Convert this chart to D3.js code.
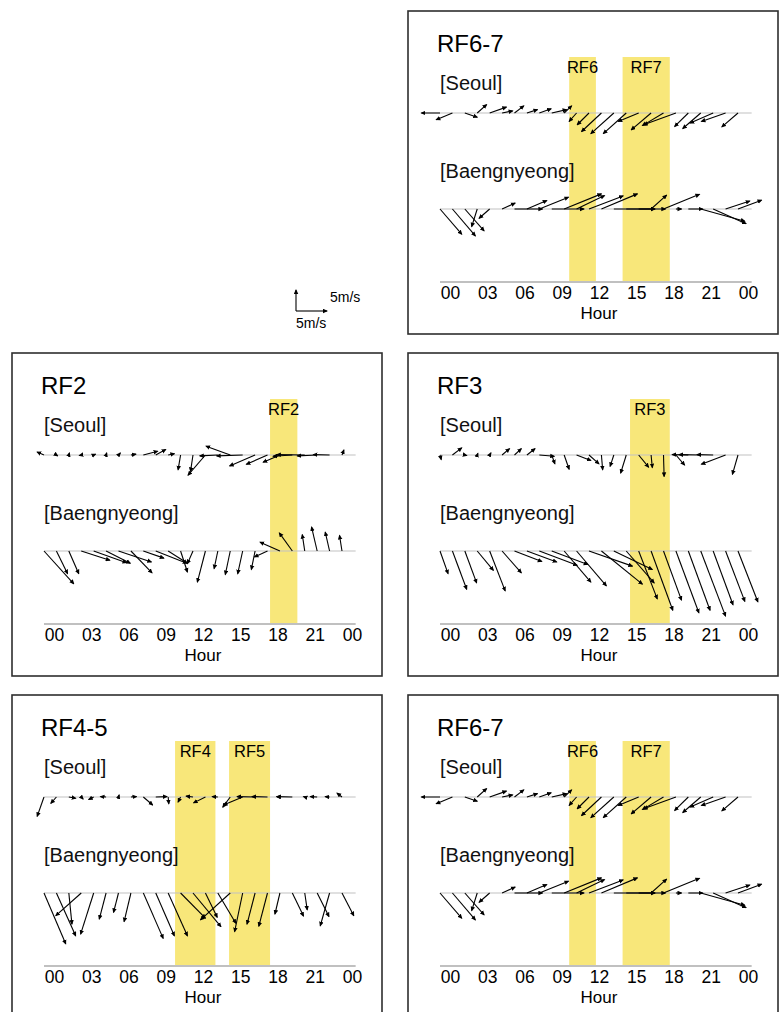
<!DOCTYPE html>
<html>
<head>
<meta charset="utf-8">
<script src="https://cdn.jsdelivr.net/npm/d3@7"></script>
<style>
  body { margin: 0; background: #fff; }
  svg { display: block; font-family: "Liberation Sans", Arial, Helvetica, sans-serif; }
</style>
</head>
<body>
<svg id="chart" width="779" height="1012"></svg>
<script>
(function() {

// hourly observation times (tail of each wind arrow)
const hours = [0, 1, 2, 3, 4, 5, 6, 7, 8, 9, 10, 11, 12, 13, 14, 15, 16, 17, 18, 19, 20, 21, 22, 23, 24];
const hourTicks = [0, 3, 6, 9, 12, 15, 18, 21, 24];
const hourLabels = ["00", "03", "06", "09", "12", "15", "18", "21", "00"];

// wind components in m/s (u eastward, v northward)
const rf67SeoulU = [-3.0, -2.6, 2.0, 1.5, 2.7, 1.7, 1.5, 1.7, 1.9, 2.4, 1.2, -1.2, -1.9, -3.2, -3.7, -3.7, -3.3, -3.2, -3.4, -5.2, -2.2, -2.9, -3.7, -3.9, -2.6];
const rf67SeoulV = [0.0, -1.6, -1.0, 2.0, 1.4, 0.5, 1.7, 0.8, 1.0, 0.8, 1.7, -2.0, -2.8, -4.4, -4.9, -4.9, -2.0, -4.0, -3.0, -2.8, -3.2, -3.7, -2.4, -2.0, -3.3];
const rf67BaengU = [3.5, 3.7, 3.1, -0.9, -1.7, 2.1, 4.5, 3.2, 4.7, 5.2, 6.0, 4.5, 5.5, 5.8, 6.6, 6.3, 2.6, 2.5, 5.8, 0.9, 2.3, 7.1, 5.3, 3.9, 3.8];
const rf67BaengV = [-6.0, -6.4, -5.2, -4.2, -2.2, 1.4, 0.0, 2.0, 2.8, 0.0, 3.6, 3.2, 3.1, 3.6, 0.0, 0.0, 0.0, 3.3, 3.5, 0.0, 0.0, -2.9, -3.5, 1.9, 2.1];

const rf2SeoulU = [-1.1, 0.2, 0.1, -0.3, 0.3, 0.1, 0.3, 0.8, 2.3, 1.6, 1.0, -0.4, -0.4, -2.8, -2.9, -3.9, -4.2, -4.1, -3.4, -2.7, -3.1, -4.5, -3.2, -2.6, 0.3];
const rf2SeoulV = [0.7, -0.2, 0.5, -0.1, 0.2, 0.5, 0.5, 0.2, 0.9, 1.3, 0.3, -3.5, -3.9, -4.8, -0.2, 2.1, -0.2, -2.6, -2.2, -1.7, -0.3, 0.1, -0.2, 0.1, 1.2];
const rf2BaengU = [4.8, 1.8, 1.6, 4.6, 5.3, 3.9, 5.3, 3.4, 3.3, 5.0, 3.1, 1.1, -0.9, -1.3, -0.6, -0.8, -0.8, -0.6, -2.1, -3.2, -2.1, -0.4, -0.9, -0.7, -0.4];
const rf2BaengV = [-7.8, -5.4, -5.4, -2.2, -2.8, -2.9, -2.6, -5.2, -1.7, -2.9, -2.9, -5.0, -3.0, -7.4, -4.2, -5.6, -5.4, -4.4, -1.4, 2.1, 4.3, 3.9, 5.7, 4.5, 3.7];

const rf3SeoulU = [0.2, 1.5, 0.3, 0.1, 0.2, 1.2, 1.1, 1.3, 2.4, 0.5, 0.8, 2.3, 1.6, 0.2, -0.6, -0.9, 1.6, 0.2, 0.1, 1.4, -2.6, -3.5, -2.6, -3.9, -0.9];
const rf3SeoulV = [-1.1, 1.7, -0.1, 0.4, 0.5, 1.5, 1.5, 1.5, -0.3, -2.1, -3.4, -1.3, -2.1, -3.5, -2.7, -4.3, -2.9, -3.0, -5.1, -2.4, 0.1, 0.1, 0.1, -2.2, -4.6];
const rf3BaengU = [1.3, 2.3, 1.9, 2.6, 2.5, 3.1, 4.4, 4.8, 6.1, 5.8, 4.3, 4.8, 7.0, 6.6, 6.2, 4.5, 3.0, 3.5, 2.9, 3.7, 3.5, 4.0, 3.2, 3.1, 3.2];
const rf3BaengV = [-5.4, -9.1, -7.6, -4.6, -9.5, -5.2, -2.5, -2.6, -3.4, -3.2, -7.4, -8.3, -3.6, -7.9, -4.4, -7.6, -11.4, -14.1, -11.7, -14.7, -14.1, -15.5, -12.8, -12.0, -12.1];

const rf45SeoulU = [-1.1, -0.9, 1.1, 0.3, -0.8, -0.9, 0.1, 0.9, 1.5, 1.8, 0.1, -0.4, -1.1, -1.9, -0.9, -1.2, -3.1, -2.9, -2.5, -0.5, -2.5, -0.2, -1.1, -0.7, -0.8];
const rf45SeoulV = [-4.6, -1.5, -0.3, -0.5, -0.6, 0.1, 0.5, 0.1, -1.9, 0.1, -1.6, -1.2, 0.2, -1.4, 0.1, -2.4, -1.9, 0.1, 0.1, 0.1, 0.1, 0.1, 0.1, 0.1, 0.9];
const rf45BaengU = [3.5, 3.1, 0.5, -4.1, -2.1, -1.1, -0.8, -1.1, 3.2, 3.0, 3.1, 4.0, 4.5, 1.9, 2.9, -4.8, -1.3, -1.3, -1.4, -0.8, 1.8, 0.4, 1.9, -1.5, 1.9];
const rf45BaengV = [-12.1, -10.2, -7.4, -5.4, -9.8, -6.2, -4.6, -6.8, -10.8, -10.2, -10.2, -6.0, -8.0, -5.8, -7.2, -6.4, -9.2, -7.4, -7.9, -5.0, -5.5, -4.0, -5.6, -7.8, -5.4];

// flight windows, hours
const rf2Flights = [{ name: "RF2", start: 17.4, end: 19.6 }];
const rf3Flights = [{ name: "RF3", start: 14.5, end: 17.7 }];
const rf45Flights = [{ name: "RF4", start: 9.75, end: 13.0 }, { name: "RF5", start: 14.1, end: 17.4 }];
const rf67Flights = [{ name: "RF6", start: 9.6, end: 11.75 }, { name: "RF7", start: 13.9, end: 17.7 }];

const panels = [
    { title: "RF6-7", col: 1, row: 0, flights: rf67Flights, su: rf67SeoulU, sv: rf67SeoulV, bu: rf67BaengU, bv: rf67BaengV },
    { title: "RF2", col: 0, row: 1, flights: rf2Flights, su: rf2SeoulU, sv: rf2SeoulV, bu: rf2BaengU, bv: rf2BaengV },
    { title: "RF3", col: 1, row: 1, flights: rf3Flights, su: rf3SeoulU, sv: rf3SeoulV, bu: rf3BaengU, bv: rf3BaengV },
    { title: "RF4-5", col: 0, row: 2, flights: rf45Flights, su: rf45SeoulU, sv: rf45SeoulV, bu: rf45BaengU, bv: rf45BaengV },
    { title: "RF6-7", col: 1, row: 2, flights: rf67Flights, su: rf67SeoulU, sv: rf67SeoulV, bu: rf67BaengU, bv: rf67BaengV }
];

const colX = [12, 408];
const rowY = [11, 353, 695];
const boxW = 370, boxH = 323;

const ySeoul = 102, yBaeng = 198, yAxis = 271;
const bandTop = 46;
const labelShift = 10;  // hour labels sit a little right of the arrow tails

const x = d3.scaleLinear().domain([0, 24]).range([32, 330]);
// arrow length scales (5 m/s reference)
const uScale = d3.scaleLinear().domain([0, 5]).range([0, 31]);
const vScale = d3.scaleLinear().domain([0, 5]).range([0, -21]);

const svg = d3.select("#chart");

svg.append("defs").append("marker")
    .attr("id", "head")
    .attr("viewBox", "0 0 10 10")
    .attr("refX", 8)
    .attr("refY", 5)
    .attr("markerWidth", 5)
    .attr("markerHeight", 5)
    .attr("markerUnits", "userSpaceOnUse")
    .attr("orient", "auto")
  .append("path")
    .attr("d", "M0,0.5 L10,5 L0,9.5 z")
    .attr("fill", "#000");

panels.forEach(drawPanel);
drawLegend();


function drawPanel(p) {
    const g = svg.append("g")
        .attr("transform", `translate(${colX[p.col]},${rowY[p.row]})`);

    g.append("rect")
        .attr("x", 0).attr("y", 0)
        .attr("width", boxW).attr("height", boxH)
        .attr("fill", "none")
        .attr("stroke", "#2e2e2e")
        .attr("stroke-width", 1.6);

    // flight bands and hour labels share the shifted frame
    const lf = g.append("g").attr("transform", `translate(${labelShift},0)`);

    lf.selectAll(".band")
        .data(p.flights)
        .enter().append("rect")
        .attr("class", "band")
        .attr("x", d => x(d.start))
        .attr("width", d => x(d.end) - x(d.start))
        .attr("y", bandTop)
        .attr("height", yAxis - bandTop)
        .attr("fill", "#f8e77a");

    lf.selectAll(".bandlabel")
        .data(p.flights)
        .enter().append("text")
        .attr("class", "bandlabel")
        .attr("x", d => (x(d.start) + x(d.end)) / 2)
        .attr("y", 62)
        .attr("text-anchor", "middle")
        .attr("font-size", "16.5px")
        .attr("fill", "#000")
        .text(d => d.name);

    // baselines
    [ySeoul, yBaeng, yAxis].forEach(y0 => {
        g.append("line")
            .attr("x1", x(0)).attr("x2", x(25.1))
            .attr("y1", y0).attr("y2", y0)
            .attr("stroke", y0 === yAxis ? "#c0c0c0" : "#c2c2c2")
            .attr("stroke-width", y0 === yAxis ? 2 : 1.2);
    });

    drawArrows(g, p.su, p.sv, ySeoul);
    drawArrows(g, p.bu, p.bv, yBaeng);

    g.append("text")
        .attr("x", 29).attr("y", 41)
        .attr("font-size", "24px")
        .attr("fill", "#000")
        .text(p.title);

    g.append("text")
        .attr("x", 32).attr("y", 79)
        .attr("font-size", "20px")
        .attr("fill", "#111")
        .text("[Seoul]");

    g.append("text")
        .attr("x", 32).attr("y", 167)
        .attr("font-size", "20px")
        .attr("fill", "#111")
        .text("[Baengnyeong]");

    const axis = lf.append("g")
        .attr("transform", `translate(0,${yAxis})`)
        .call(d3.axisBottom(x)
            .tickValues(hourTicks)
            .tickFormat((d, i) => hourLabels[i])
            .tickSize(0)
            .tickPadding(5));
    axis.select(".domain").remove();
    axis.selectAll("text")
        .attr("font-size", "17.5px")
        .attr("font-family", "Liberation Sans, Arial, sans-serif")
        .attr("fill", "#000");

    lf.append("text")
        .attr("x", x(12))
        .attr("y", 308)
        .attr("text-anchor", "middle")
        .attr("font-size", "17px")
        .attr("fill", "#000")
        .text("Hour");
}


function drawArrows(g, u, v, y0) {
    const data = hours.map((h, i) => ({ h: h, u: u[i], v: v[i] }));

    g.selectAll(null)
        .data(data)
        .enter().append("line")
        .attr("x1", d => x(d.h))
        .attr("y1", y0)
        .attr("x2", d => x(d.h) + uScale(d.u))
        .attr("y2", d => y0 + vScale(d.v))
        .attr("stroke", "#000")
        .attr("stroke-width", 1.1)
        .attr("marker-end", "url(#head)");
}


function drawLegend() {
    const lg = svg.append("g").attr("transform", "translate(296,311)");

    lg.append("line")
        .attr("x1", 0).attr("y1", 0)
        .attr("x2", 0).attr("y2", vScale(5))
        .attr("stroke", "#000")
        .attr("stroke-width", 1.1)
        .attr("marker-end", "url(#head)");
    lg.append("line")
        .attr("x1", 0).attr("y1", 0)
        .attr("x2", uScale(5)).attr("y2", 0)
        .attr("stroke", "#000")
        .attr("stroke-width", 1.1)
        .attr("marker-end", "url(#head)");

    lg.append("text")
        .attr("x", 34).attr("y", -9)
        .attr("font-size", "14px")
        .attr("fill", "#000")
        .text("5m/s");
    lg.append("text")
        .attr("x", 0).attr("y", 17)
        .attr("font-size", "14px")
        .attr("fill", "#000")
        .text("5m/s");
}

})();
</script>
</body>
</html>
